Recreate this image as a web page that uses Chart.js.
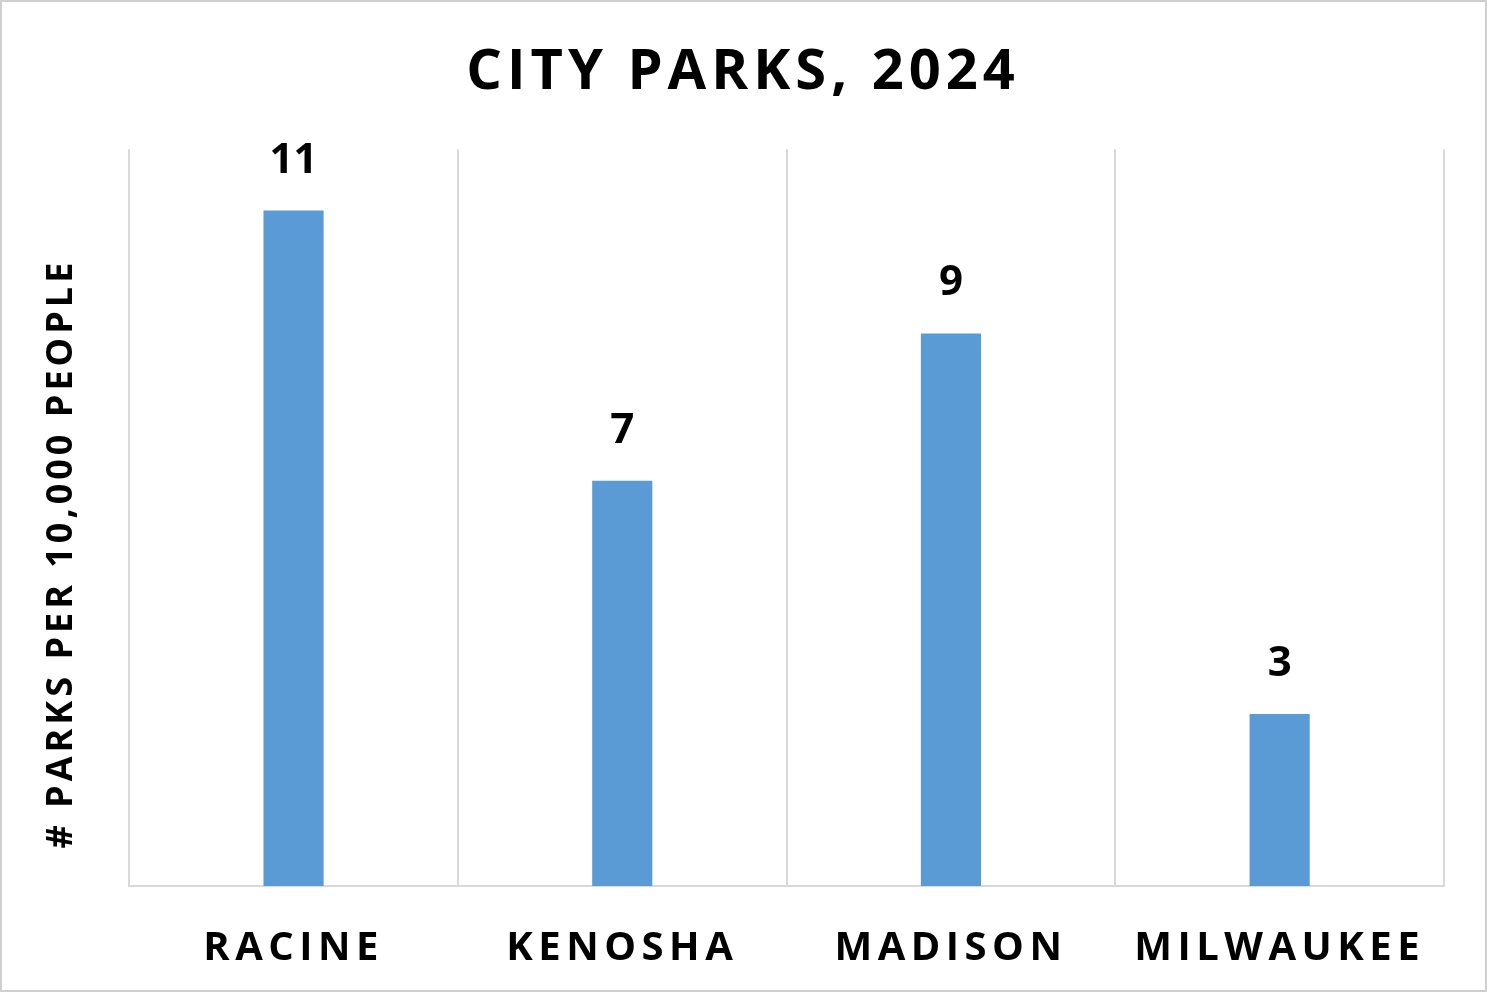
<!DOCTYPE html>
<html>
<head>
<meta charset="utf-8">
<script src="https://cdn.jsdelivr.net/npm/chart.js@4"></script>
<style>
  html, body { margin: 0; padding: 0; background: #fff; }
  #wrap { width: 1487px; height: 992px; position: relative; }
</style>
</head>
<body>
<div id="wrap"><canvas id="graficaParques"></canvas></div>
<script>
// datos del grafico
var cities = ['RACINE', 'KENOSHA', 'MADISON', 'MILWAUKEE'];
var parks = [11, 6.6, 9, 2.8];
var chartTitle = 'CITY PARKS, 2024';
var yTitle = '# PARKS PER 10,000 PEOPLE';

var FONT = "'Open Sans', 'DejaVu Sans', sans-serif";

// spacing between letters (and a small nudge), Chart.js has no option for it
function spaced(fn, px, dx, dy) {
    return function () {
        var ctx = this.ctx;
        ctx.save();
        ctx.translate(dx, dy);
        ctx.letterSpacing = px;
        fn.apply(this, arguments);
        ctx.letterSpacing = '0px';
        ctx.restore();
    };
}

var spacingPlugin = {
    id: 'spacing',
    beforeDraw: function (chart) {
        if (!chart.titleBlock._spaced) {
            chart.titleBlock.draw = spaced(chart.titleBlock.draw, '5px', 11, 2);
            chart.titleBlock._spaced = true;
        }
        var x = chart.scales.x, y = chart.scales.y;
        if (!x._spaced) {
            x.drawLabels = spaced(x.drawLabels, '5.5px', 0, 0);
            x._spaced = true;
        }
        if (!y._spaced) {
            y.drawTitle = spaced(y.drawTitle, '4px', 0, 36);
            y._spaced = true;
        }
    },
    afterDraw: function (chart) {
        // outer border of the chart
        var ctx = chart.ctx;
        ctx.save();
        ctx.strokeStyle = '#d0d0d0';
        ctx.lineWidth = 2;
        ctx.strokeRect(1, 1, chart.width - 2, chart.height - 2);
        ctx.restore();
    }
};

// numbers over each bar
var valueLabels = {
    id: 'valueLabels',
    afterDatasetsDraw: function (chart) {
        var ctx = chart.ctx;
        var meta = chart.getDatasetMeta(0);
        ctx.save();
        ctx.font = 'bold 42px ' + FONT;
        ctx.fillStyle = '#000';
        ctx.textAlign = 'center';
        ctx.textBaseline = 'middle';
        meta.data.forEach(function (bar, i) {
            ctx.fillText(Math.round(parks[i]), bar.x, bar.y - 50);
        });
        ctx.restore();
    }
};

var ctx = document.getElementById('graficaParques').getContext('2d');
var chart = new Chart(ctx, {
    type: 'bar',
    data: {
        labels: cities,
        datasets: [
            {
                backgroundColor: '#5B9BD5',
                borderWidth: 0,
                barPercentage: 0.183,
                categoryPercentage: 1,
                data: parks
            }
        ]
    },
    options: {
        responsive: true,
        maintainAspectRatio: false,
        animation: false,
        layout: {
            padding: { left: 20, right: 43, top: 0, bottom: 22 }
        },
        scales: {
            x: {
                afterFit: function (scale) { scale.height = 84; },
                grid: { display: true, offset: true, color: '#d9d9d9', lineWidth: 2, drawTicks: false },
                border: { display: true, color: '#d9d9d9', width: 2 },
                ticks: {
                    color: '#000',
                    padding: 39,
                    maxRotation: 0,
                    font: { family: FONT, size: 40, weight: 'bold' }
                }
            },
            y: {
                min: 0,
                max: 12,
                grid: { display: false, drawTicks: false },
                border: { display: false },
                ticks: { display: false },
                title: {
                    display: true,
                    text: yTitle,
                    color: '#000',
                    font: { family: FONT, size: 36, weight: 'bold' },
                    padding: { top: 20, bottom: 46 }
                }
            }
        },
        plugins: {
            legend: { display: false },
            tooltip: { enabled: false },
            title: {
                display: true,
                text: chartTitle,
                color: '#000',
                font: { family: FONT, size: 56, weight: 'bold' },
                padding: { top: 37, bottom: 45 }
            }
        }
    },
    plugins: [spacingPlugin, valueLabels]
});
</script>
</body>
</html>
